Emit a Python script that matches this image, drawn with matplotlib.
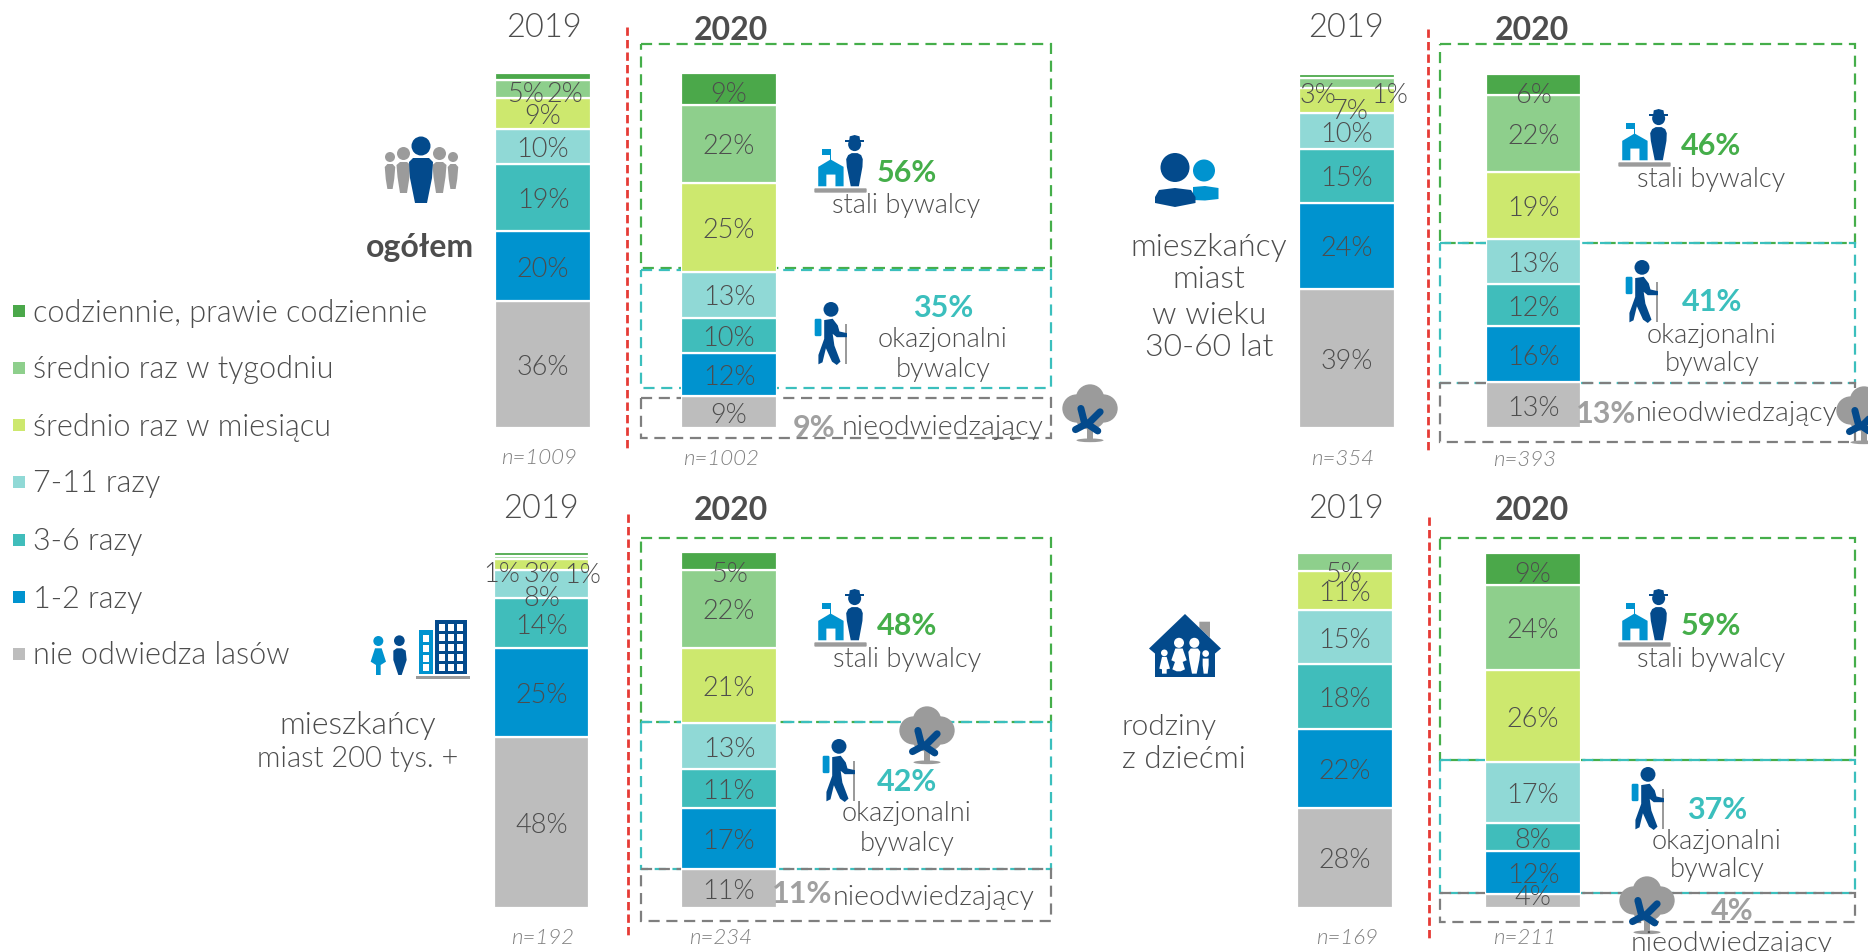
import matplotlib
matplotlib.use("Agg")
import matplotlib.pyplot as plt
from matplotlib.patches import Circle, Ellipse, Polygon, Rectangle, FancyBboxPatch
from matplotlib.transforms import Affine2D

plt.rcParams['font.family'] = ['Lato', 'DejaVu Sans']

W, H = 1868, 952

# Data: shares bottom to top, same order as colours
colors = ['#bdbdbd', '#0093cf', '#40bdbb', '#90d9d6', '#cde86e', '#8ecf8c', '#4ba84a']
legend_labels = ['codziennie, prawie codziennie', 'średnio raz w tygodniu',
                 'średnio raz w miesiącu', '7-11 razy', '3-6 razy', '1-2 razy',
                 'nie odwiedza lasów']

ogolem_2019 = [36, 20, 19, 10, 9, 5, 2]
ogolem_2020 = [9, 12, 10, 13, 25, 22, 9]
wiek_2019 = [39, 24, 15, 10, 7, 3, 1]
wiek_2020 = [13, 16, 12, 13, 19, 22, 6]
miasta_2019 = [48, 25, 14, 8, 3, 1, 1]
miasta_2020 = [11, 17, 11, 13, 21, 22, 5]
rodziny_2019 = [28, 22, 18, 15, 11, 5, 0]
rodziny_2020 = [4, 12, 8, 17, 26, 24, 9]

n_labels = ['n=1009', 'n=1002', 'n=354', 'n=393', 'n=192', 'n=234', 'n=169', 'n=211']
stali = ['56%', '46%', '48%', '59%']
okazjonalni = ['35%', '41%', '42%', '37%']
nieodw = ['9%', '13%', '11%', '4%']

# Colours of text and icons
TXT = '#4d4d4d'
GRAY = '#9b9b9b'
DARK = '#034a8c'
BLUE = '#0093cf'
GREEN = '#45ae4a'
TEAL = '#3bbfbd'
RED = '#e63b36'
LIGHT = 300

# Layout in pixels: x0, x1, y0, y1, values, label shifts {index: (dx, dy)}
bars = [
    (495, 591, 73, 428, ogolem_2019, {6: (22, 16), 5: (-18, 4), 4: (0, 1)}),
    (681, 777, 73, 428, ogolem_2020, {6: (0, 4)}),
    (1299, 1395, 74, 428, wiek_2019, {6: (43, 18), 5: (-29, 11), 4: (3, 9), 3: (0, 1)}),
    (1486, 1581, 74, 428, wiek_2020, {6: (0, 9)}),
    (494, 589, 552, 908, miasta_2019, {6: (41, 20), 5: (-40, 15), 4: (0, 8), 3: (0, 12)}),
    (681, 777, 552, 908, miasta_2020, {6: (0, 12)}),
    (1297, 1393, 553, 908, rodziny_2019, {5: (-2, 11)}),
    (1485, 1581, 553, 908, rodziny_2020, {6: (0, 4), 0: (0, -5)}),
]

fig = plt.figure(figsize=(W / 100, H / 100), dpi=100)


def overlay(z):
    ax = fig.add_axes([0, 0, 1, 1], zorder=z)
    ax.set_xlim(0, W)
    ax.set_ylim(H, 0)
    ax.axis('off')
    ax.patch.set_visible(False)
    return ax


bg = overlay(0)
fg = overlay(3)


def put(x, y, s, size=20, color=TXT, weight=LIGHT, ha='center', style='normal'):
    fg.text(x, y + 2, s, fontsize=size, color=color, fontweight=weight, ha=ha, va='center',
            fontstyle=style)


def box(x0, x1, y0, y1, color):
    bg.add_patch(Rectangle((x0, y0), x1 - x0, y1 - y0, fill=False, ec=color, lw=1.6,
                           ls=(0, (5, 3))))


# Stacked bars, one axes each
for x0, x1, y0, y1, vals, shifts in bars:
    ax = fig.add_axes([x0 / W, 1 - y1 / H, (x1 - x0) / W, (y1 - y0) / H], zorder=1)
    ax.set_xlim(-0.5, 0.5)
    ax.set_ylim(0, sum(vals))
    ax.axis('off')
    b = 0
    for i, v in enumerate(vals):
        if v > 0:
            ax.bar(0, v, width=1, bottom=b, color=colors[i], edgecolor='white', linewidth=1.6)
            dx, dy = shifts.get(i, (0, 1))
            ax.annotate(f"{v}%", xy=(0, b + v / 2), xytext=(dx, -dy - 2), textcoords='offset pixels',
                        ha='center', va='center', fontsize=19.5, color=TXT, fontweight=LIGHT,
                        annotation_clip=False)
        b += v


def tr(ax, x0, y0, x1, y1, w, h, ux=0, uy=0):
    # maps icon units (w x h, origin ux, uy) on to a pixel box
    return (Affine2D().translate(-ux, -uy).scale((x1 - x0) / w, (y1 - y0) / h)
            .translate(x0, y0) + ax.transData)


def school(x0, y0, x1, y1):
    t = tr(fg, x0, y0, x1, y1, 163, 173, 42, 30)
    sh = [
        FancyBboxPatch((46, 192), 155, 7, boxstyle='round,pad=3', fc=GRAY, ec='none'),
        Polygon([(55, 183), (55, 125), (93, 103), (133, 125), (133, 183), (108, 183),
                 (108, 148), (80, 148), (80, 183)], fc=BLUE, ec='none'),
        Rectangle((90, 72), 5, 34, fc=BLUE, ec='none'),
        Rectangle((67, 72), 26, 18, fc=BLUE, ec='none'),
        Circle((167, 58), 20, fc=DARK, ec='none'),
        Rectangle((138, 46), 57, 6, fc=DARK, ec='none'),
        Polygon([(150, 48), (152, 34), (167, 30), (182, 34), (184, 48)], fc=DARK, ec='none'),
        Polygon([(141, 102), (147, 90), (158, 84), (176, 84), (187, 90), (192, 102), (191, 125),
                 (180, 183), (155, 183), (143, 125)], fc=DARK, ec='none'),
    ]
    for s in sh:
        s.set_transform(t)
        fg.add_patch(s)


def hiker(x0, y0, x1, y1):
    t = tr(fg, x0, y0, x1, y1, 103, 188, 15, 20)
    sh = [
        FancyBboxPatch((21, 74), 12, 44, boxstyle='round,pad=4', fc=BLUE, ec='none'),
        Rectangle((105, 85), 7, 120, fc=GRAY, ec='none'),
        Circle((65, 42), 22, fc=DARK, ec='none'),
        Polygon([(45, 74), (70, 70), (85, 90), (90, 108), (112, 113), (112, 125), (82, 125),
                 (70, 115), (75, 150), (93, 198), (82, 208), (68, 198), (50, 158), (40, 200),
                 (28, 206), (28, 178), (45, 130)], fc=DARK, ec='none'),
    ]
    for s in sh:
        s.set_transform(t)
        fg.add_patch(s)


def tree(x0, y0, x1, y1):
    t = tr(fg, x0, y0, x1, y1, 160, 170, 25, 15)
    sh = [Circle((105, 55), 42), Circle((65, 85), 42), Circle((145, 85), 42), Circle((105, 100), 48),
          Rectangle((97, 130), 16, 48), Ellipse((105, 180), 80, 11)]
    for s in sh:
        s.set(fc=GRAY, ec='none')
        s.set_transform(t)
        fg.add_patch(s)
    sc = (x1 - x0) / 160
    fg.plot([78, 88, 128], [85, 125, 152], color=DARK, lw=15 * sc, solid_capstyle='round',
            transform=t, clip_on=False)
    fg.plot([135, 105, 62], [95, 125, 148], color=DARK, lw=15 * sc, solid_capstyle='round',
            transform=t, clip_on=False)


def crowd(x0, y0):
    t = Affine2D().translate(x0, y0) + fg.transData
    sh = []
    for cx, hr, ht, hb, bw in [(7, 5, 28, 53, 10.5), (70, 5, 28, 53, 10.5), (20.5, 6.5, 26, 57, 14),
                               (56.5, 6.5, 26, 57, 14)]:
        sh.append(Circle((cx, ht - hr - 2), hr, fc=GRAY, ec='none'))
        sh.append(Polygon([(cx - bw / 2, ht + 3), (cx - bw / 4, ht), (cx + bw / 4, ht), (cx + bw / 2, ht + 3),
                           (cx + bw / 2 - 1, ht + 15), (cx + bw / 4, hb), (cx - bw / 4, hb),
                           (cx - bw / 2 + 1, ht + 15)], fc=GRAY, ec='none'))
    sh.append(Circle((38, 10), 9.5, fc=DARK, ec='none'))
    sh.append(Polygon([(26, 26), (30, 22), (46, 22), (50, 26), (49, 42), (44, 67), (32, 67), (27, 42)],
                      fc=DARK, ec='none'))
    for s in sh:
        s.set_transform(t)
        fg.add_patch(s)


def duo(x0, y0):
    t = Affine2D().translate(x0, y0) + fg.transData
    sh = [
        Circle((49, 17.5), 11, fc=BLUE, ec='none'),
        Polygon([(38, 34), (50, 33), (63.5, 35), (63.5, 46), (50, 47.5), (38, 47)], fc=BLUE, ec='none'),
        Circle((20, 14.5), 14.5, fc=DARK, ec='none'),
        Polygon([(0, 44), (4, 37), (20, 35), (36, 37), (40.5, 44), (40.5, 50), (20, 54), (0, 50)],
                fc=DARK, ec='none'),
    ]
    for s in sh:
        s.set_transform(t)
        fg.add_patch(s)


def city(x0, y0):
    t = tr(fg, x0, y0, x0 + 100, y0 + 59, 300, 177, 30, 30)
    sh = [
        Circle((55, 93), 15, fc=BLUE, ec='none'),
        Polygon([(45, 115), (65, 115), (78, 155), (62, 165), (62, 195), (48, 195), (48, 165), (32, 155)],
                fc=BLUE, ec='none'),
        Circle((118, 92), 16, fc=DARK, ec='none'),
        Polygon([(100, 122), (110, 115), (126, 115), (137, 122), (140, 150), (125, 195), (115, 195),
                 (100, 150)], fc=DARK, ec='none'),
        Rectangle((178, 60), 42, 133, fc=BLUE, ec='none'),
        Rectangle((226, 30), 96, 163, fc=DARK, ec='none'),
        Rectangle((168, 197), 162, 10, fc=GRAY, ec='none'),
    ]
    for wy in [75, 105, 134, 163]:
        sh.append(Rectangle((190, wy), 18, 21, fc='white', ec='none'))
    for wx in [238, 265, 292]:
        for wy in [42, 72, 102, 132, 162]:
            sh.append(Rectangle((wx, wy), 17, 20, fc='white', ec='none'))
    for s in sh:
        s.set_transform(t)
        fg.add_patch(s)


def house(x0, y0, x1, y1):
    t = tr(fg, x0, y0, x1, y1, 216, 188, 27, 27)
    sh = [
        Polygon([(178, 50), (210, 50), (210, 98), (178, 68)], fc=GRAY, ec='none'),
        Polygon([(135, 27), (243, 130), (225, 145), (225, 215), (45, 215), (45, 145), (27, 130)],
                fc=DARK, ec='none'),
        Circle((73, 143), 10, fc='white', ec='none'),
        Polygon([(66, 155), (80, 155), (90, 190), (80, 192), (80, 205), (66, 205), (66, 192), (58, 190)],
                fc='white', ec='none'),
        Circle((117, 113), 15, fc='white', ec='none'),
        Polygon([(106, 130), (128, 130), (140, 165), (128, 170), (135, 192), (122, 198), (110, 198),
                 (97, 192), (105, 170), (94, 165)], fc='white', ec='none'),
        Circle((163, 113), 15, fc='white', ec='none'),
        Polygon([(145, 140), (152, 130), (174, 130), (181, 140), (178, 165), (170, 205), (156, 205),
                 (148, 165)], fc='white', ec='none'),
        Circle((197, 145), 10, fc='white', ec='none'),
        Polygon([(188, 160), (206, 160), (206, 180), (203, 205), (191, 205), (188, 180)],
                fc='white', ec='none'),
    ]
    for s in sh:
        s.set_transform(t)
        fg.add_patch(s)


# Legend
legend_y = [311, 368, 425, 482, 540, 597, 654]
for lab, c, y in zip(legend_labels, colors[::-1], legend_y):
    fg.add_patch(Rectangle((13, y - 6), 12, 12, fc=c, ec='none'))
    put(33, y, lab, size=22, ha='left')

# Year headings and red separators
for x, y in [(544, 26), (1346, 26), (541, 507), (1346, 507)]:
    put(x, y, '2019', size=23.5)
for x, y in [(731, 28), (1532, 28), (731, 508), (1532, 508)]:
    put(x, y, '2020', size=23, weight='bold')
for x, y0, y1 in [(627, 27, 450), (1428, 29, 453), (628, 514, 937), (1429, 517, 940)]:
    bg.plot([x, x], [y0, y1], color=RED, lw=2, ls=(0, (3, 1.5)))

# Dashed group frames
for x0, x1, y0, y1, y2, y3, y4 in [(641, 1051, 44, 268, 270, 388, 398), (1440, 1855, 44, 243, 243, 383, 383)]:
    box(x0, x1, y0, y1, GREEN)
    box(x0, x1, y2, y3, TEAL)
    box(x0, x1, y4, y4 + (40 if x0 == 641 else 59), '#7f7f7f')
box(641, 1051, 538, 722, GREEN)
box(641, 1051, 722, 869, TEAL)
box(641, 1051, 869, 921, '#7f7f7f')
box(1440, 1855, 538, 760, GREEN)
box(1440, 1855, 760, 893, TEAL)
box(1440, 1855, 893, 922, '#7f7f7f')

# n under the bars
for (x, y), s in zip([(539, 456), (721, 457), (1343, 457), (1525, 458), (543, 936), (721, 936),
                      (1347, 936), (1525, 936)], n_labels):
    put(x, y, s, size=16, color='#808080', style='italic')

# Callouts
for (x, y), s in zip([(907, 171), (1711, 144), (907, 624), (1711, 624)], stali):
    put(x, y, s, size=22, color=GREEN, weight='bold')
for x, y in [(906, 203), (1711, 177), (907, 657), (1711, 657)]:
    put(x, y, 'stali bywalcy', size=19.5)
for (x, y), s in zip([(943, 306), (1712, 300), (907, 780), (1717, 808)], okazjonalni):
    put(x, y, s, size=22, color=TEAL, weight='bold')
for x, y1, y2 in [(943, 338, 367), (1712, 333, 362), (907, 812, 842), (1717, 839, 868)]:
    put(x, y1, 'okazjonalni', size=19.5)
    put(x, y2, 'bywalcy', size=19.5)
for (x, y), s in zip([(814, 426), (1606, 412), (802, 892), (1732, 909)], nieodw):
    put(x, y, s, size=22, color='#a0a0a0', weight='bold')
for x, y in [(943, 425), (1737, 412), (934, 896), (1732, 942)]:
    put(x, y, 'nieodwiedzający', size=20.5)

# Group names
put(420, 245, 'ogółem', size=23, weight='bold')
for y, s in zip([245, 278, 313, 345], ['mieszkańcy', 'miast', 'w wieku', '30-60 lat']):
    put(1209, y, s, size=23)
put(358, 724, 'mieszkańcy', size=23)
put(358, 757, 'miast 200 tys. +', size=21)
put(1122, 725, 'rodziny', size=21.5, ha='left')
put(1122, 757, 'z dziećmi', size=22.5, ha='left')

# Icons
for x0, y0 in [(814, 135), (1618, 109), (814, 589), (1618, 589)]:
    school(x0, y0, x0 + 53, y0 + 58)
for x0, y0 in [(814, 302), (1625, 260), (822, 739), (1631, 767)]:
    hiker(x0, y0, x0 + 35, y0 + 63)
for x0, y0 in [(1063, 385), (1837, 387), (900, 707), (1620, 877)]:
    tree(x0, y0, x0 + 54, y0 + 57)
crowd(383, 136)
duo(1155, 153)
city(370, 620)
house(1149, 614, 1221, 677)

fg.set_xlim(0, W)
fg.set_ylim(H, 0)
fig.savefig('out.png', dpi=100, facecolor='white')
